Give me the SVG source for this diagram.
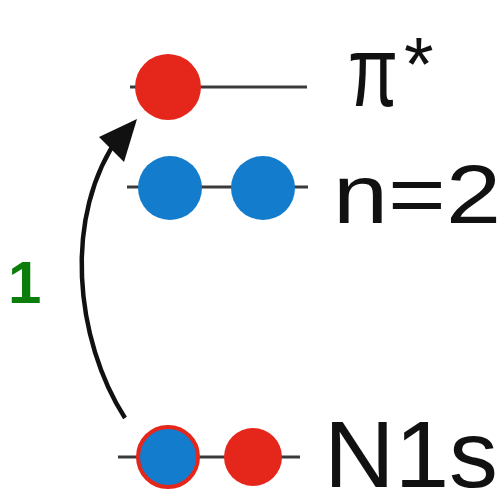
<svg xmlns="http://www.w3.org/2000/svg" width="504" height="502" viewBox="0 0 504 502">
<style>
.lvl{stroke:#3a3a3a;stroke-width:3}
.red{fill:#e5261b}
.blue{fill:#137ccd}
.lbl{font-family:"Liberation Sans",Arial,sans-serif;fill:#111}
</style>
<rect width="504" height="502" fill="#fff"/>
<g id="pi-star">
<line class="lvl" x1="130" y1="87" x2="307" y2="87"/>
<circle class="red" cx="168" cy="87" r="33"/>
<text class="lbl" x="348" y="106" font-size="100" font-family="Liberation Serif,serif" textLength="50" lengthAdjust="spacingAndGlyphs">π</text>
<text class="lbl" x="404" y="90" font-size="76">*</text>
</g>
<g id="n2">
<line class="lvl" x1="127" y1="187" x2="308" y2="187"/>
<circle class="blue" cx="170" cy="188" r="32"/>
<circle class="blue" cx="263" cy="188" r="32"/>
<text class="lbl" x="333" y="223" font-size="84" textLength="168" lengthAdjust="spacingAndGlyphs">n=2</text>
</g>
<g id="n1s">
<line class="lvl" x1="118" y1="457" x2="300" y2="457"/>
<circle class="blue" cx="168" cy="457" r="30" stroke="#e5261b" stroke-width="4"/>
<circle class="red" cx="253" cy="457" r="29"/>
<text class="lbl" x="324" y="487" font-size="94" textLength="174" lengthAdjust="spacingAndGlyphs">N1s</text>
</g>
<g id="label1">
<text x="8" y="303" font-size="60" font-weight="bold" font-family="Liberation Sans,Arial,sans-serif" fill="#0a7d0a">1</text>
</g>
<g id="connectors">
<path d="M125,418 C75,340 62,215 120,135" fill="none" stroke="#111" stroke-width="4.5"/>
<polygon points="137,119 99,137 124,162" fill="#111"/>
</g>
</svg>
